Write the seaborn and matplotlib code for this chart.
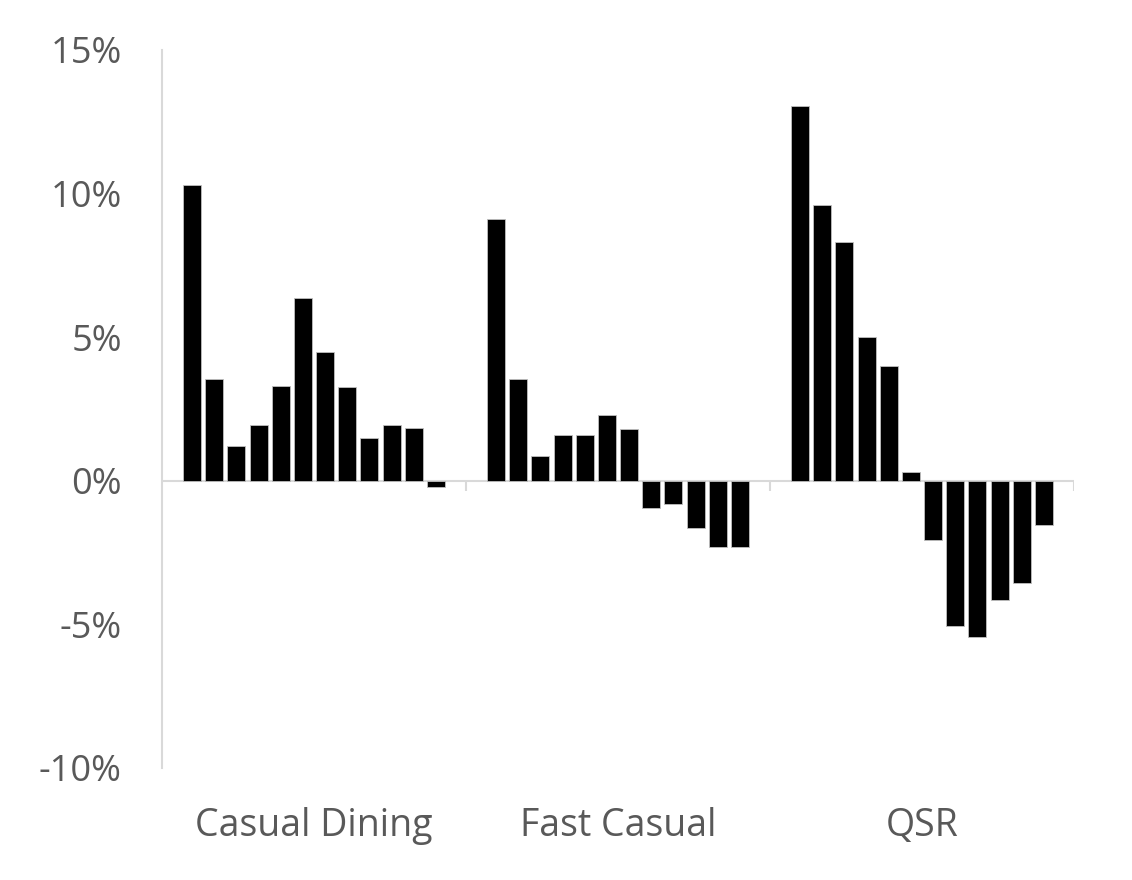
import matplotlib
matplotlib.use("Agg")
import matplotlib.pyplot as plt
import seaborn as sns
import pandas as pd

# ── Data (% change) ───────────────────────────────────────────────────────── #
segments = ["Casual Dining", "Fast Casual", "QSR"]
casual_dining = [10.3, 3.55, 1.2, 1.95, 3.3, 6.35, 4.5, 3.25, 1.5, 1.95, 1.85, -0.2]
fast_casual = [9.1, 3.55, 0.85, 1.6, 1.6, 2.3, 1.8, -0.95, -0.8, -1.65, -2.3, -2.3]
qsr = [13.05, 9.6, 8.3, 5.0, 4.0, 0.3, -2.05, -5.05, -5.45, -4.15, -3.55, -1.55]
periods = [f"P{i + 1}" for i in range(12)]
y_ticks = [-10, -5, 0, 5, 10, 15]

rows = []
for seg, vals in zip(segments, [casual_dining, fast_casual, qsr]):
    for p, v in zip(periods, vals):
        rows.append({"segment": seg, "period": p, "value": v})
df = pd.DataFrame(rows)

# ── Plot ──────────────────────────────────────────────────────────────────── #
sns.set_style("white")
plt.rcParams["font.family"] = ["Open Sans", "DejaVu Sans"]
GREY_TXT = "#595959"
GREY_LINE = "#d9d9d9"

fig = plt.figure(figsize=(11.32, 8.8), dpi=100)
ax = fig.add_axes([0.1431, 0.1273, 0.8057, 0.8159])

sns.barplot(data=df, x="segment", y="value", hue="period", order=segments,
            hue_order=periods, palette=["black"] * 12, width=0.875, gap=0.19,
            edgecolor="#bfbfbf", linewidth=0.6, legend=False, ax=ax)

ax.set_xlim(-0.5, 2.5)
ax.set_ylim(-10, 15)
ax.set_yticks(y_ticks)
ax.set_yticklabels([f"{t}%" for t in y_ticks])

# zero line with category separators
ax.axhline(0, color=GREY_LINE, lw=1.5, zorder=0)
ax.vlines([0.5, 1.5, 2.5], -0.35, 0, color=GREY_LINE, lw=1.5, zorder=0)

for s in ["top", "right", "bottom"]:
    ax.spines[s].set_visible(False)
ax.spines["left"].set_color(GREY_LINE)
ax.spines["left"].set_linewidth(1.5)

ax.tick_params(axis="y", length=0, pad=29, labelsize=26, labelcolor=GREY_TXT)
ax.tick_params(axis="x", length=0, pad=28, labelsize=27, labelcolor=GREY_TXT)
ax.set_xlabel("")
ax.set_ylabel("")

fig.savefig("out.png", dpi=100)
plt.close(fig)
